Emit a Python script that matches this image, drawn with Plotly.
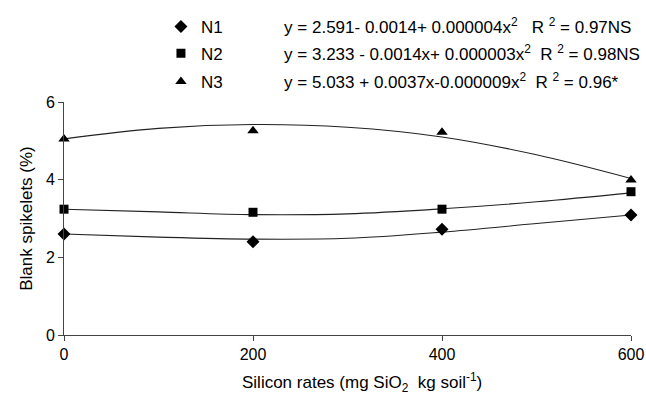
import plotly.graph_objects as go

# Measured data (Silicon rate, Blank spikelets %)
rates = [0, 200, 400, 600]
n1_obs = [2.60, 2.40, 2.72, 3.09]
n2_obs = [3.24, 3.16, 3.24, 3.69]
n3_obs = [5.05, 5.26, 5.22, 3.99]

# Trend curves
curve_x = [0, 100, 200, 300, 400, 500, 600]
n1_curve = [2.60, 2.52, 2.47, 2.49, 2.65, 2.87, 3.09]
n2_curve = [3.24, 3.17, 3.10, 3.12, 3.25, 3.43, 3.66]
n3_curve = [5.05, 5.32, 5.42, 5.35, 5.10, 4.64, 4.03]

series_names = ["N1", "N2", "N3"]
equations = [
    "y = 2.591- 0.0014+ 0.000004x<sup>2</sup>\u00a0\u00a0\u00a0R <sup>2</sup> = 0.97NS",
    "y = 3.233 - 0.0014x+ 0.000003x<sup>2</sup>\u00a0\u00a0R <sup>2</sup> = 0.98NS",
    "y = 5.033 + 0.0037x-0.000009x<sup>2</sup>\u00a0\u00a0R <sup>2</sup> = 0.96*",
]
x_title = "Silicon rates (mg SiO<sub>2</sub>\u00a0 kg soil<sup>-1</sup>)"
y_title = "Blank spikelets (%)"
symbols = ["diamond", "square", "triangle-up"]
sizes = [10, 9, 10]

FONT = "Arial, 'Liberation Sans', sans-serif"
FS = 17

fig = go.Figure()
obs = [n1_obs, n2_obs, n3_obs]
curves = [n1_curve, n2_curve, n3_curve]
legends = ["legend", "legend2", "legend3"]
gap = "\u00a0" * 13

for i in range(3):
    fig.add_trace(go.Scatter(
        x=curve_x, y=curves[i], mode="lines",
        line=dict(color="#222222", width=1.1, shape="spline"),
        showlegend=False, hoverinfo="skip"))
    fig.add_trace(go.Scatter(
        x=rates, y=obs[i], mode="markers",
        marker=dict(symbol=symbols[i], size=sizes[i], color="black"),
        name=series_names[i] + gap + equations[i],
        legend=legends[i], cliponaxis=False))

legend_common = dict(font=dict(family=FONT, size=FS, color="black"),
                     bgcolor="rgba(0,0,0,0)", borderwidth=0,
                     xanchor="left", yanchor="middle", itemwidth=30)
fig.update_layout(
    legend=dict(x=0.171, y=1.322, **legend_common),
    legend2=dict(x=0.171, y=1.207, **legend_common),
    legend3=dict(x=0.171, y=1.086, **legend_common),
)

fig.add_annotation(text=x_title, xref="paper", yref="paper",
                   x=0.526, y=-0.206, xanchor="center", yanchor="middle",
                   showarrow=False, font=dict(family=FONT, size=FS, color="black"))

fig.update_layout(
    width=646, height=402,
    margin=dict(l=64, r=15, t=102, b=67, autoexpand=False),
    paper_bgcolor="white", plot_bgcolor="white",
    font=dict(family=FONT, size=FS, color="black"),
    xaxis=dict(range=[0, 600], tickvals=[0, 200, 400, 600],
               showline=True, linecolor="#444444", linewidth=1,
               ticks="outside", ticklen=5, tickcolor="#444444",
               showgrid=False, zeroline=False,
               tickfont=dict(size=16)),
    yaxis=dict(range=[0, 6], tickvals=[0, 2, 4, 6],
               showline=True, linecolor="#444444", linewidth=1,
               ticks="outside", ticklen=5, tickcolor="#444444",
               showgrid=False, zeroline=False,
               tickfont=dict(size=16),
               title=dict(text=y_title, font=dict(size=FS), standoff=8)),
)

fig.write_html("out.html", config={"displayModeBar": False},
               post_script="document.body.style.margin='0';document.body.style.overflow='hidden';")
